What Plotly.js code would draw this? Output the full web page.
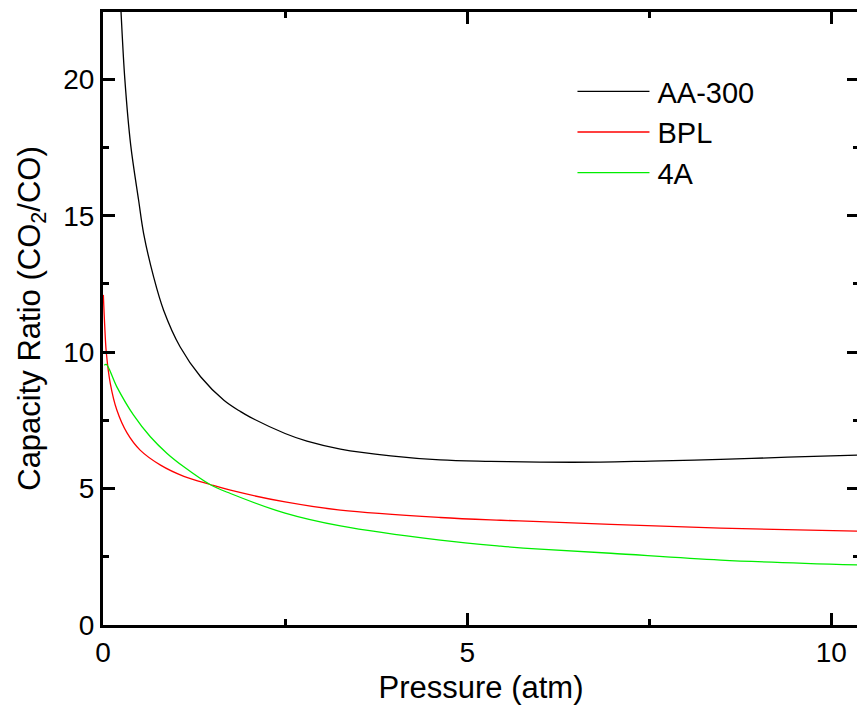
<!DOCTYPE html>
<html>
<head>
<meta charset="utf-8">
<script src="https://cdn.plot.ly/plotly-3.0.1.min.js"></script>
<style>
html, body { margin: 0; padding: 0; overflow: hidden; background: #fff; }
#chart { width: 860px; height: 706px; }
</style>
</head>
<body>
<div id="chart"></div>
<script>
// Pressure (atm) and capacity ratio CO2/CO
const aa300X = [0.22, 0.247, 0.30, 0.38, 0.489, 0.558, 0.695, 0.832, 1.06, 1.34, 1.66, 1.89, 2.02, 2.5, 2.80, 3.26, 3.95, 4.63, 5.32, 6.0, 6.83, 7.52, 8.48, 9.4, 10.38];
const aa300Y = [24.0, 22.5, 20.0, 17.6, 15.57, 14.35, 12.76, 11.54, 10.19, 9.10, 8.24, 7.82, 7.62, 7.02, 6.74, 6.45, 6.20, 6.05, 6.00, 5.97, 5.97, 6.01, 6.07, 6.15, 6.23];

const bplX = [0.005, 0.022, 0.045, 0.10, 0.19, 0.33, 0.51, 0.79, 1.11, 1.47, 1.75, 2.5, 3.26, 4.63, 5.46, 6.0, 6.97, 8.48, 10.38];
const bplY = [12.1, 11.05, 10.0, 8.86, 7.88, 7.04, 6.41, 5.86, 5.45, 5.15, 4.94, 4.51, 4.21, 3.94, 3.84, 3.79, 3.69, 3.55, 3.44];

const a4X = [0.018, 0.045, 0.19, 0.42, 0.65, 0.88, 1.11, 1.47, 1.75, 2.5, 3.26, 4.63, 5.46, 6.0, 6.97, 8.48, 10.38];
const a4Y = [9.52, 9.55, 8.73, 7.69, 6.90, 6.29, 5.80, 5.15, 4.82, 4.10, 3.63, 3.11, 2.89, 2.78, 2.63, 2.38, 2.20];

const seriesNames = ['AA-300', 'BPL', '4A'];
const xTitle = 'Pressure (atm)';
const yTitle = 'Capacity Ratio (CO<sub>2</sub>/CO)';

const FONT = 'Arial, "Liberation Sans", sans-serif';

const traces = [
  {x: aa300X, y: aa300Y, name: seriesNames[0], mode: 'lines', line: {color: '#000000', width: 1.3, shape: 'spline', smoothing: 1}},
  {x: bplX, y: bplY, name: seriesNames[1], mode: 'lines', line: {color: '#ff0000', width: 1.3, shape: 'spline', smoothing: 1}},
  {x: a4X, y: a4Y, name: seriesNames[2], mode: 'lines', line: {color: '#00ee00', width: 1.3, shape: 'spline', smoothing: 1}}
];

const axisCommon = {
  showgrid: false, zeroline: false,
  showline: true, linecolor: '#000', linewidth: 3,
  mirror: 'allticks',
  ticks: 'inside', ticklen: 12, tickwidth: 3, tickcolor: '#000',
  tickfont: {family: FONT, size: 28, color: '#000'}
};

const layout = {
  width: 860, height: 706,
  margin: {l: 103, r: 1, t: 12, b: 81},
  paper_bgcolor: '#fff', plot_bgcolor: '#fff',
  font: {family: FONT, color: '#000'},
  xaxis: Object.assign({}, axisCommon, {
    range: [0, 10.38], dtick: 5, tick0: 0,
    minor: {dtick: 2.5, ticks: 'inside', ticklen: 6, tickwidth: 3, tickcolor: '#000'},
    title: {text: xTitle, font: {family: FONT, size: 31, color: '#000'}, standoff: 10}
  }),
  yaxis: Object.assign({}, axisCommon, {
    range: [0, 22.47], dtick: 5, tick0: 0,
    minor: {dtick: 2.5, ticks: 'inside', ticklen: 6, tickwidth: 3, tickcolor: '#000'},
    title: {text: yTitle, font: {family: FONT, size: 31, color: '#000'}, standoff: 14}
  }),
  showlegend: true,
  legend: {
    x: 0.621, y: 0.912, xanchor: 'left', yanchor: 'top',
    bgcolor: 'rgba(0,0,0,0)', borderwidth: 0,
    font: {family: FONT, size: 29, color: '#000'},
    itemwidth: 80, tracegroupgap: 0
  }
};

Plotly.newPlot('chart', traces, layout, {displayModeBar: false, staticPlot: true}).then(function (gd) {
  // lengthen the legend line samples to match the reference
  gd.querySelectorAll('.legend .legendlines path').forEach(function (p) {
    p.setAttribute('d', 'M5,0h72');
  });
  gd.querySelectorAll('.legend .legendtext').forEach(function (t) {
    t.setAttribute('x', '85');
  });
});
</script>
</body>
</html>
